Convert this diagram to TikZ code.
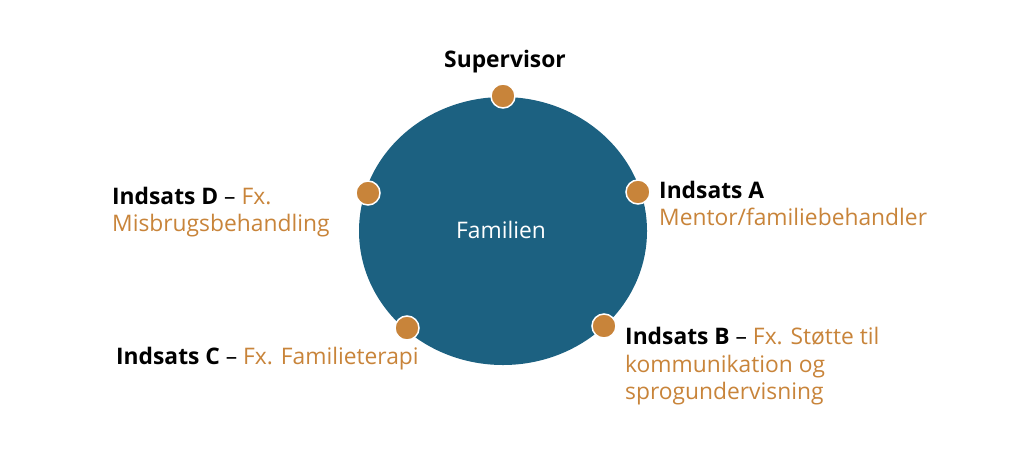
\documentclass[tikz,border=0pt]{standalone}
\usepackage{fontspec}
\setmainfont{Open Sans}
\definecolor{fam}{HTML}{1C6181}
\definecolor{ora}{HTML}{C8843A}
\begin{document}
\begin{tikzpicture}[x=1pt,y=-1pt,
  dot/.style={circle,fill=ora,draw=white,line width=1.5pt,minimum size=24pt,inner sep=0},
  lbl/.style={anchor=base west,inner sep=0,font=\fontsize{22.8}{27}\selectfont}]
\useasboundingbox (0,0) rectangle (1024,464);
\fill[fam] (503,231) ellipse [x radius=144, y radius=134];
\node[text=white,font=\fontsize{22.8}{27}\selectfont,anchor=base] (fam) at (501,238) {Familien};
\node[dot] (dS) at (503,96) {};
\node[dot] (dA) at (638,192) {};
\node[dot] (dB) at (604,326) {};
\node[dot] (dC) at (407,328) {};
\node[dot] (dD) at (368,193) {};
\node[anchor=base,inner sep=0,font=\fontsize{22.8}{27}\selectfont\bfseries] (lS) at (505,67) {Supervisor};
\node[lbl] (lA1) at (659,198) {\textbf{Indsats A}};
\node[lbl,text=ora] (lA2) at (659,225) {Mentor/familiebehandler};
\node[lbl] (lB1) at (625,344) {\textbf{Indsats B} – \textcolor{ora}{Fx. Støtte til}};
\node[lbl,text=ora] (lB2) at (625,372) {kommunikation og};
\node[lbl,text=ora] (lB3) at (625,399) {sprogundervisning};
\node[lbl] (lC) at (116,364) {\textbf{Indsats C} – \textcolor{ora}{Fx. Familieterapi}};
\node[lbl] (lD1) at (112,204) {\textbf{Indsats D} – \textcolor{ora}{Fx.}};
\node[lbl,text=ora] (lD2) at (112,231) {Misbrugsbehandling};
\end{tikzpicture}
\end{document}
